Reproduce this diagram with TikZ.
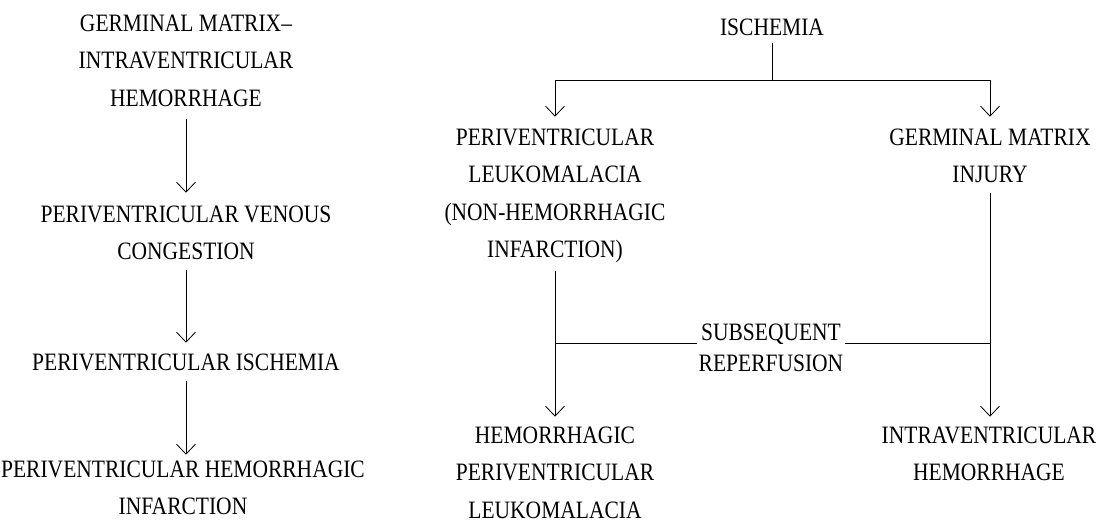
\documentclass[tikz,border=0pt]{standalone}
\usepackage{fontspec}
\setmainfont{Liberation Serif}[FakeStretch=0.86]
\usetikzlibrary{arrows.meta}
\begin{document}
\begin{tikzpicture}[x=1pt,y=-1pt,
  lbl/.style={inner sep=0pt, align=center, anchor=north, font=\fontsize{25}{37.5}\selectfont},
  ln/.style={line width=0.8pt},
  arr/.style={line width=0.8pt, -{Straight Barb[length=10pt,width=19pt,line width=0.8pt]}}]
\useasboundingbox (0,0) rectangle (1101,522);
% left column
\node[lbl] (a) at (186,14.7) {GERMINAL MATRIX--\\INTRAVENTRICULAR\\HEMORRHAGE};
\node[lbl] (b) at (186,205.7) {PERIVENTRICULAR VENOUS\\CONGESTION};
\node[lbl] (c) at (186,353.7) {PERIVENTRICULAR ISCHEMIA};
\node[lbl] (d) at (183,460.7) {PERIVENTRICULAR HEMORRHAGIC\\INFARCTION};
\draw[arr, shorten <=12pt, shorten >=13pt] (a.south -| b.north) -- (b.north);
\draw[arr, shorten <=10pt, shorten >=11pt] (b.south) -- (c.north);
\draw[arr, shorten <=10pt, shorten >=6pt] (c.south) -- (c.south |- d.north);
% right part
\node[lbl] (isc) at (772,18.7) {ISCHEMIA};
\node[lbl] (pvl) at (555,128.7) {PERIVENTRICULAR\\LEUKOMALACIA\\(NON-HEMORRHAGIC\\INFARCTION)};
\node[lbl] (gmi) at (990,128.7) {GERMINAL MATRIX\\INJURY};
\node[lbl] (hpl) at (555,426.7) {HEMORRHAGIC\\PERIVENTRICULAR\\LEUKOMALACIA};
\node[lbl] (ivh) at (989,426.7) {INTRAVENTRICULAR\\HEMORRHAGE};
\node[lbl, inner xsep=2pt, font=\fontsize{25}{31}\selectfont] (sr) at (771,323.7) {SUBSEQUENT\\REPERFUSION};
\coordinate (j) at (772,80);
\coordinate (jl) at (555,80);
\coordinate (jr) at (990,80);
\coordinate (m1) at (555,343);
\coordinate (m2) at (990,343);
\draw[ln, shorten <=7pt] (isc.south) -- (j);
\draw[ln] (jl) -- (jr);
\draw[arr, shorten >=12pt] (jl) -- (pvl.north);
\draw[arr, shorten >=12pt] (jr) -- (gmi.north);
\draw[arr, shorten <=8pt, shorten >=10pt] (pvl.south) -- (hpl.north);
\draw[arr, shorten <=10pt, shorten >=10pt] (gmi.south) -- (gmi.south |- ivh.north);
\draw[ln] (m1) -- (m1 -| sr.west);
\draw[ln] (m2) -- (m2 -| sr.east);
\end{tikzpicture}
\end{document}
